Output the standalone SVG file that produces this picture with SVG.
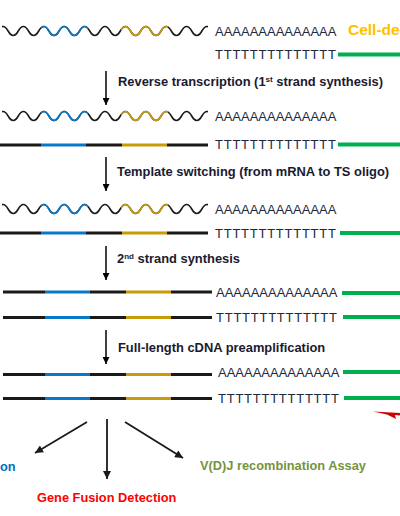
<svg xmlns="http://www.w3.org/2000/svg" width="400" height="516" viewBox="0 0 400 516">
<style>
  .wave{fill:none;stroke-width:1.6;stroke-linecap:round}
  .k{stroke:#1a1a1a}
  .b{stroke:#0a78c8}
  .g{stroke:#c89b0a}
  .seg{stroke-width:3;fill:none}
  .green{stroke:#00b050;stroke-width:4}
  .polyA{font-family:"Liberation Sans",Arial,sans-serif;font-size:13px;fill:#202840}
  .polyT{font-family:"Liberation Sans",Arial,sans-serif;font-size:13px;fill:#202840;letter-spacing:0.75px}
  .step{font-family:"Liberation Sans",Arial,sans-serif;font-size:12.9px;font-weight:bold;fill:#1a1a30}
  .sup{font-size:8px}
  .arr{stroke:#000;stroke-width:1.5;fill:none}
  .arrb{stroke:#1a1a1a;stroke-width:1.8;fill:none}
</style>
<defs>
  <path id="wave" d="M-2.1,0 q5.1,-9 10.2,0 t10.2,0 t10.2,0 t10.2,0 t10.2,0 t10.2,0 t10.2,0 t10.2,0 t10.2,0 t10.2,0 t10.2,0 t10.2,0 t10.2,0 t10.2,0 t10.2,0 t10.2,0 t10.2,0 t10.2,0 t10.2,0 t10.2,0 t10.2,0"/>
  <clipPath id="cAll" clipPathUnits="userSpaceOnUse"><rect x="2" y="-10" width="206" height="20"/></clipPath>
  <clipPath id="cBlue" clipPathUnits="userSpaceOnUse"><rect x="41" y="-10" width="47" height="20"/></clipPath>
  <clipPath id="cGold" clipPathUnits="userSpaceOnUse"><rect x="121" y="-10" width="47" height="20"/></clipPath>
  <marker id="ah" viewBox="0 0 10 10" refX="10" refY="5" markerUnits="userSpaceOnUse" markerWidth="9" markerHeight="7" orient="auto">
    <path d="M0,0 L10,5 L0,10 z" fill="#000"/>
  </marker>
  <marker id="ah2" viewBox="0 0 10 10" refX="10" refY="5" markerUnits="userSpaceOnUse" markerWidth="10" markerHeight="8" orient="auto">
    <path d="M0,0 L10,5 L0,10 z" fill="#1a1a1a"/>
  </marker>
</defs>

<!-- Row 1: mRNA + oligo-dT -->
<g id="row1">
  <g transform="translate(0,31)" clip-path="url(#cAll)">
    <use href="#wave" class="wave k"/>
    <use href="#wave" class="wave b" clip-path="url(#cBlue)"/>
    <use href="#wave" class="wave g" clip-path="url(#cGold)"/>
  </g>
  <text x="215" y="36" class="polyA">AAAAAAAAAAAAAA</text>
  <text x="215" y="59" class="polyT">TTTTTTTTTTTTTT</text>
  <line x1="338" y1="54.5" x2="400" y2="54.5" class="green"/>
  <text x="348" y="35" font-family="Liberation Sans,Arial,sans-serif" font-size="15.5" font-weight="bold" fill="#ffc000">Cell-de</text>
</g>

<!-- Row 2: first strand -->
<g id="row2">
  <g transform="translate(0,116)" clip-path="url(#cAll)">
    <use href="#wave" class="wave k"/>
    <use href="#wave" class="wave b" clip-path="url(#cBlue)"/>
    <use href="#wave" class="wave g" clip-path="url(#cGold)"/>
  </g>
  <text x="215" y="121" class="polyA">AAAAAAAAAAAAAA</text>
  <line x1="0" y1="145" x2="41" y2="145" class="seg k"/>
  <line x1="41" y1="145" x2="86" y2="145" class="seg b"/>
  <line x1="86" y1="145" x2="122" y2="145" class="seg k"/>
  <line x1="122" y1="145" x2="167" y2="145" class="seg g"/>
  <line x1="167" y1="145" x2="208" y2="145" class="seg k"/>
  <text x="215" y="149" class="polyT">TTTTTTTTTTTTTT</text>
  <line x1="338" y1="144.5" x2="400" y2="144.5" class="green"/>
</g>

<!-- Row 3: template switching -->
<g id="row3">
  <g transform="translate(0,209)" clip-path="url(#cAll)">
    <use href="#wave" class="wave k"/>
    <use href="#wave" class="wave b" clip-path="url(#cBlue)"/>
    <use href="#wave" class="wave g" clip-path="url(#cGold)"/>
  </g>
  <text x="215" y="213.5" class="polyA">AAAAAAAAAAAAAA</text>
  <line x1="0" y1="233" x2="41" y2="233" class="seg k"/>
  <line x1="41" y1="233" x2="86" y2="233" class="seg b"/>
  <line x1="86" y1="233" x2="122" y2="233" class="seg k"/>
  <line x1="122" y1="233" x2="167" y2="233" class="seg g"/>
  <line x1="167" y1="233" x2="208" y2="233" class="seg k"/>
  <text x="215" y="238" class="polyT">TTTTTTTTTTTTTT</text>
  <line x1="340" y1="233" x2="400" y2="233" class="green"/>
</g>

<!-- Row 4: second strand -->
<g id="row4">
  <line x1="3" y1="292" x2="45" y2="292" class="seg k"/>
  <line x1="45" y1="292" x2="90" y2="292" class="seg b"/>
  <line x1="90" y1="292" x2="126" y2="292" class="seg k"/>
  <line x1="126" y1="292" x2="171" y2="292" class="seg g"/>
  <line x1="171" y1="292" x2="212" y2="292" class="seg k"/>
  <text x="216" y="296.5" class="polyA">AAAAAAAAAAAAAA</text>
  <line x1="342" y1="293" x2="400" y2="293" class="green"/>
  <line x1="3" y1="317.5" x2="45" y2="317.5" class="seg k"/>
  <line x1="45" y1="317.5" x2="90" y2="317.5" class="seg b"/>
  <line x1="90" y1="317.5" x2="126" y2="317.5" class="seg k"/>
  <line x1="126" y1="317.5" x2="171" y2="317.5" class="seg g"/>
  <line x1="171" y1="317.5" x2="212" y2="317.5" class="seg k"/>
  <text x="216" y="322" class="polyT">TTTTTTTTTTTTTT</text>
  <line x1="343" y1="317" x2="400" y2="317" class="green"/>
</g>

<!-- Row 5: preamplified cDNA -->
<g id="row5">
  <line x1="3" y1="374.5" x2="45" y2="374.5" class="seg k"/>
  <line x1="45" y1="374.5" x2="90" y2="374.5" class="seg b"/>
  <line x1="90" y1="374.5" x2="126" y2="374.5" class="seg k"/>
  <line x1="126" y1="374.5" x2="171" y2="374.5" class="seg g"/>
  <line x1="171" y1="374.5" x2="212" y2="374.5" class="seg k"/>
  <text x="218" y="377" class="polyA">AAAAAAAAAAAAAA</text>
  <line x1="343" y1="372" x2="400" y2="372" class="green"/>
  <line x1="3" y1="398.5" x2="45" y2="398.5" class="seg k"/>
  <line x1="45" y1="398.5" x2="90" y2="398.5" class="seg b"/>
  <line x1="90" y1="398.5" x2="126" y2="398.5" class="seg k"/>
  <line x1="126" y1="398.5" x2="171" y2="398.5" class="seg g"/>
  <line x1="171" y1="398.5" x2="212" y2="398.5" class="seg k"/>
  <text x="218" y="403" class="polyT">TTTTTTTTTTTTTT</text>
  <line x1="344" y1="398" x2="400" y2="398" class="green"/>
  <polygon points="373,411.5 400,413 400,415.5 395,415 396,419 387,414.5" fill="#d00000"/>
</g>

<!-- Step labels -->
<g id="labels">
  <text x="118" y="86" class="step">Reverse transcription (1<tspan class="sup" dy="-4">st</tspan><tspan dy="4"> strand synthesis)</tspan></text>
  <text x="117" y="176" class="step">Template switching (from mRNA to TS oligo)</text>
  <text x="117" y="263" class="step">2<tspan class="sup" dy="-4">nd</tspan><tspan dy="4"> strand synthesis</tspan></text>
  <text x="118" y="352" class="step">Full-length cDNA preamplification</text>
</g>

<!-- Applications -->
<g id="app-expression">
  <text x="0" y="471" font-family="Liberation Sans,Arial,sans-serif" font-size="12.8" font-weight="bold" fill="#0070c0">on</text>
</g>
<g id="app-fusion">
  <text x="37" y="502" font-family="Liberation Sans,Arial,sans-serif" font-size="12.8" font-weight="bold" fill="#ff0000">Gene Fusion Detection</text>
</g>
<g id="app-vdj">
  <text x="200" y="470" font-family="Liberation Sans,Arial,sans-serif" font-size="12.8" font-weight="bold" fill="#77933c">V(D)J recombination Assay</text>
</g>

<!-- Connectors -->
<g id="connectors">
  <line x1="106" y1="71" x2="106" y2="105" class="arr" marker-end="url(#ah)"/>
  <line x1="106" y1="157" x2="106" y2="191" class="arr" marker-end="url(#ah)"/>
  <line x1="106" y1="246" x2="106" y2="280" class="arr" marker-end="url(#ah)"/>
  <line x1="106" y1="330" x2="106" y2="364" class="arr" marker-end="url(#ah)"/>
  <line x1="87" y1="422" x2="35" y2="453" class="arrb" marker-end="url(#ah2)"/>
  <line x1="107" y1="419" x2="107" y2="479" class="arrb" marker-end="url(#ah2)"/>
  <line x1="125" y1="422" x2="183" y2="458" class="arrb" marker-end="url(#ah2)"/>
</g>
</svg>
